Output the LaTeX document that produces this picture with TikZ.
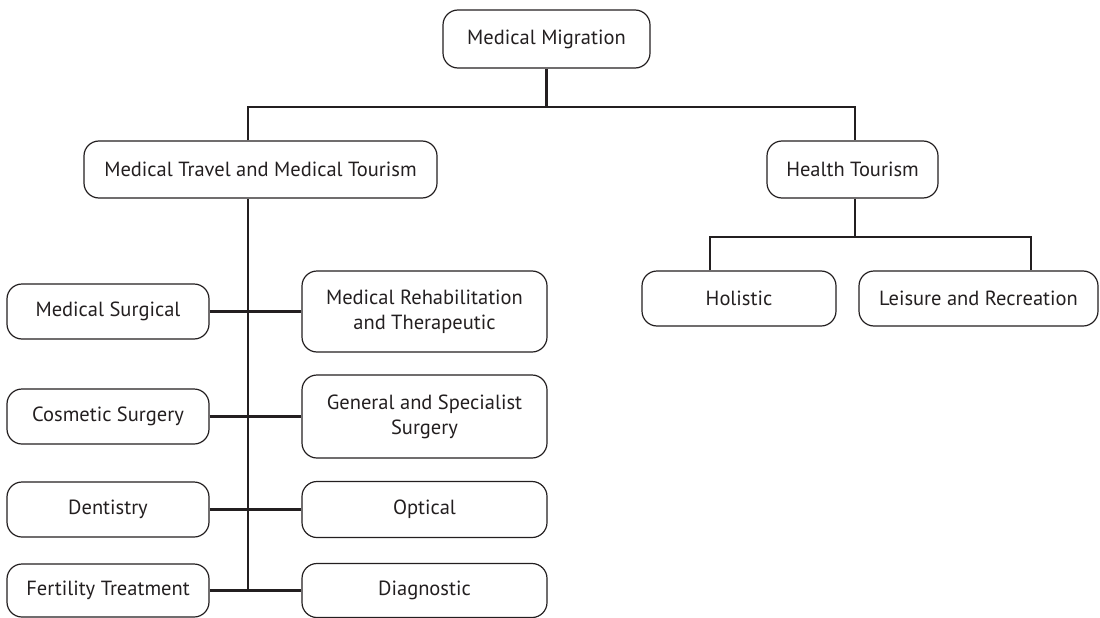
\documentclass[tikz,border=0pt]{standalone}
\usepackage{fontspec}
\setmainfont{PT Sans}
\usetikzlibrary{positioning}

\definecolor{ink}{RGB}{35,31,32}

\tikzset{
  box/.style={draw=ink, text=ink, rounded corners=15pt, line width=1.2pt, align=center,
    inner sep=0pt, font=\fontsize{20.5}{25}\selectfont},
  link/.style={draw=ink, line width=2.6pt},
}

\begin{document}
\begin{tikzpicture}[x=1pt, y=-1pt]
\useasboundingbox (0,0) rectangle (1100,618);

% top level
\node[box, minimum width=207pt, minimum height=58pt] (migration) at (546.5,39) {Medical Migration};
\node[box, minimum width=353pt, minimum height=57pt] (travel) at (260.5,169.5) {Medical Travel and Medical Tourism};
\node[box, minimum width=171pt, minimum height=57pt] (health) at (852.5,169.5) {Health Tourism};

% health tourism branch
\node[box, minimum width=194pt, minimum height=55pt] (holistic) at (739,298.5) {Holistic};
\node[box, minimum width=239pt, minimum height=55pt] (leisure) at (978.5,298.5) {Leisure and Recreation};

% medical travel branch, left column
\node[box, minimum width=202pt, minimum height=55pt] (surgical) at (108,311.5) {Medical Surgical};
\node[box, minimum width=202pt, minimum height=55pt] (cosmetic) at (108,416.5) {Cosmetic Surgery};
\node[box, minimum width=202pt, minimum height=55pt] (dentistry) at (108,509.5) {Dentistry};
\node[box, minimum width=202pt, minimum height=53pt] (fertility) at (108,590.5) {Fertility Treatment};

% right column
\node[box, minimum width=245pt, minimum height=81pt] (rehab) at (424.5,311.5) {Medical Rehabilitation\\and Therapeutic};
\node[box, minimum width=245pt, minimum height=83pt] (general) at (424.5,416.5) {General and Specialist\\Surgery};
\node[box, minimum width=245pt, minimum height=56pt] (optical) at (424.5,509.5) {Optical};
\node[box, minimum width=245pt, minimum height=54pt] (diagnostic) at (424.5,590.5) {Diagnostic};

% connector positions
\coordinate (topbus) at (0,107);
\coordinate (trunk) at (248,0);
\coordinate (healthdrop) at (855,0);
\coordinate (holdrop) at (710,237);
\coordinate (leidrop) at (1031,237);

% connectors
\draw[link] (migration.south) -- (migration.south |- topbus);
\draw[link] (travel.north -| trunk) -- (trunk |- topbus) -- (healthdrop |- topbus) -- (health.north -| healthdrop);

\draw[link] (health.south -| healthdrop) -- (healthdrop |- holdrop);
\draw[link] (holistic.north -| holdrop) -- (holdrop) -- (leidrop) -- (leisure.north -| leidrop);

\draw[link] (travel.south -| trunk) -- (fertility.east -| trunk);
\draw[link] (surgical.east) -- (rehab.west);
\draw[link] (cosmetic.east) -- (general.west);
\draw[link] (dentistry.east) -- (optical.west);
\draw[link] (fertility.east) -- (diagnostic.west);

\end{tikzpicture}
\end{document}
